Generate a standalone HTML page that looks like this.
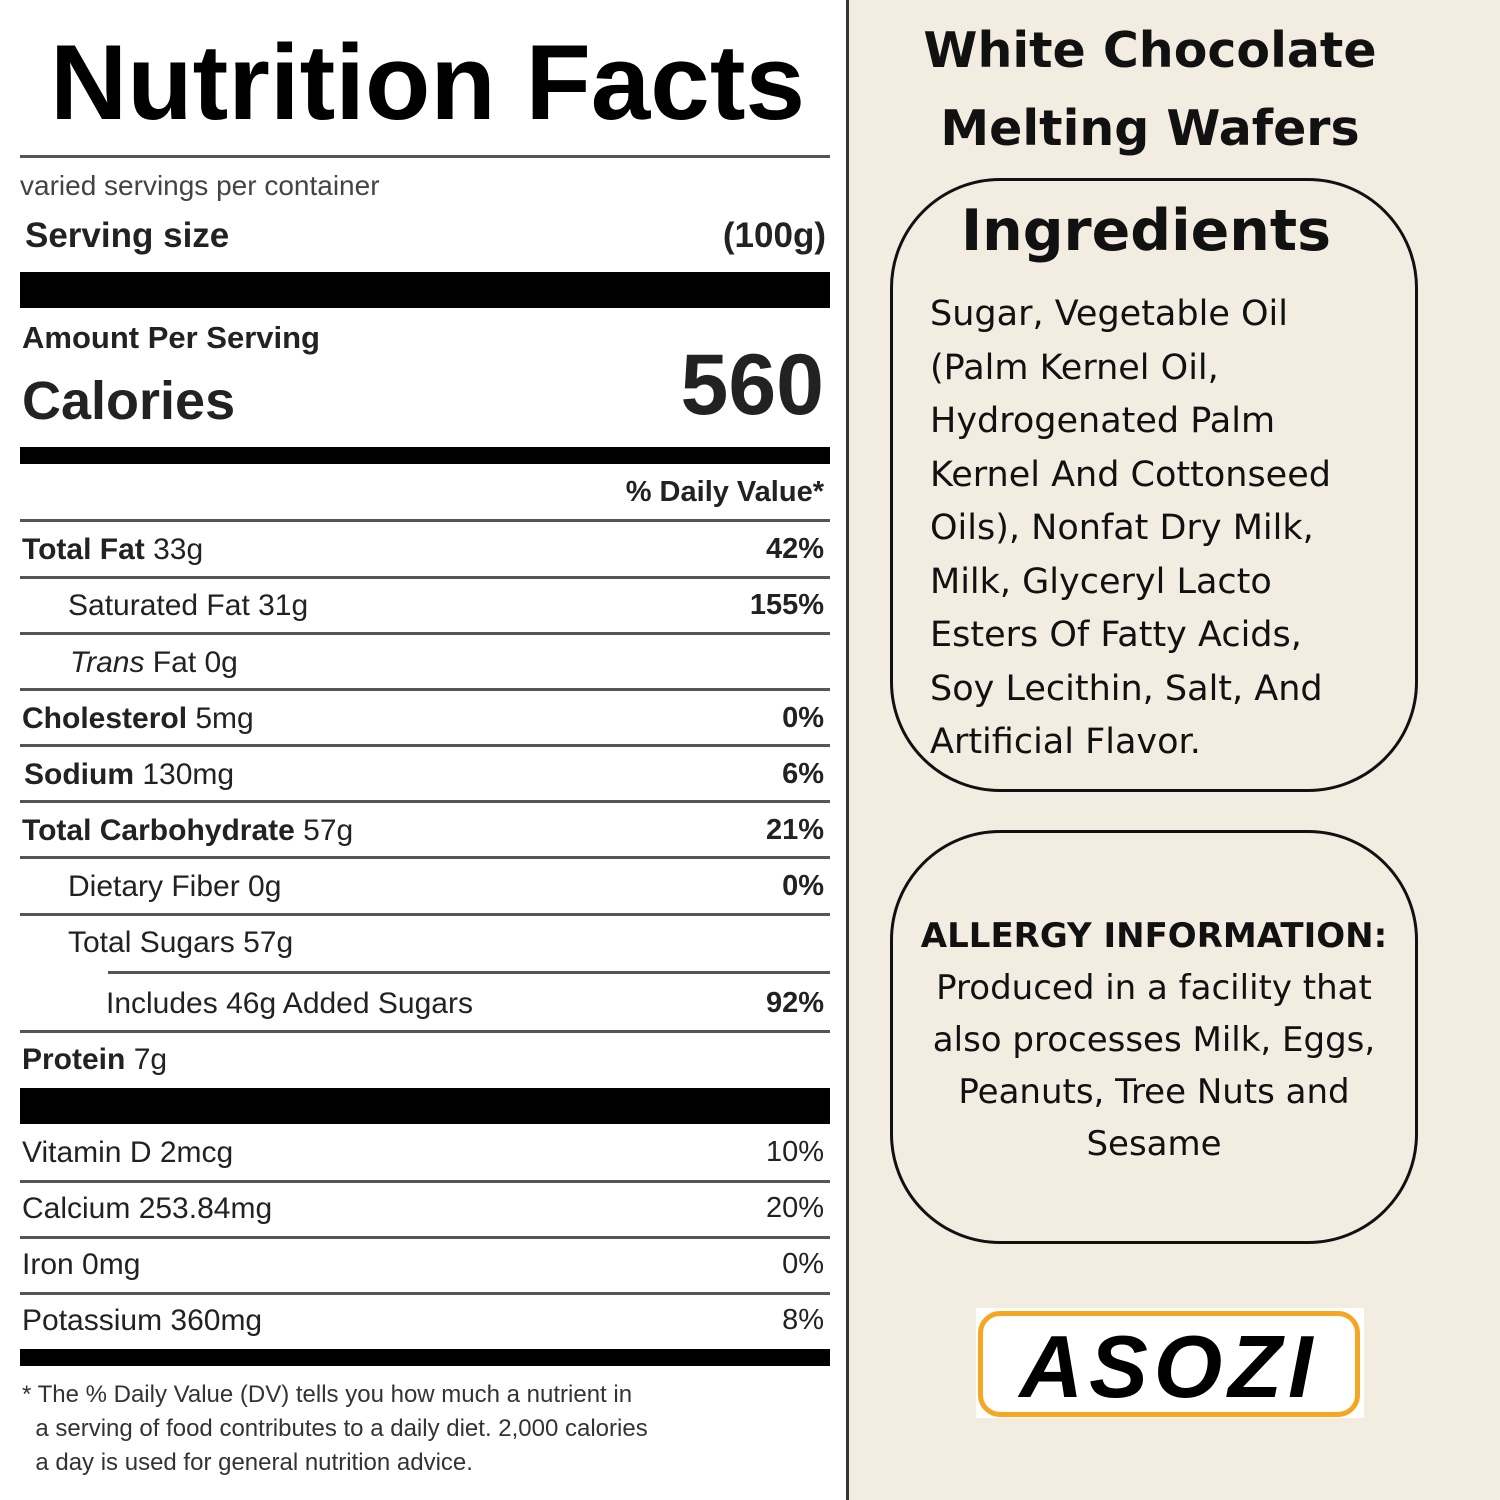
<!DOCTYPE html><html><head><style>
body{margin:0;width:1500px;height:1500px;background:#f3ece1;position:relative;overflow:hidden;font-family:"Liberation Sans",sans-serif}
#l{position:absolute;left:0;top:0;width:846px;height:1500px;background:#fff;border-right:3px solid #333}
.t{position:absolute;white-space:nowrap;color:#222}
.r{position:absolute;right:22px;white-space:nowrap;color:#222;font-weight:bold;font-size:29px}
.ln{position:absolute;left:20px;width:810px;height:3px;background:#555}
.bar{position:absolute;left:20px;width:810px;background:#000}
.f{font-size:30px}
.box{position:absolute;border:3px solid #111;border-radius:110px}
.rt{position:absolute;font-family:"DejaVu Sans",sans-serif;color:#111;white-space:nowrap}
</style></head><body>
<div id="l">
<div class="t" style="left:50px;top:20px;font-size:107px;font-weight:bold;color:#000">Nutrition Facts</div>
<div class="ln" style="top:155px"></div>
<div class="t" style="left:20px;top:170px;font-size:28px;color:#444">varied servings per container</div>
<div class="t" style="left:25px;top:216px;font-size:35px;font-weight:bold">Serving size</div>
<div class="t" style="right:20px;top:216px;font-size:35px;font-weight:bold">(100g)</div>
<div class="bar" style="top:272px;height:36px"></div>
<div class="t" style="left:22px;top:320px;font-size:31px;font-weight:bold">Amount Per Serving</div>
<div class="t" style="left:22px;top:370px;font-size:54px;font-weight:bold">Calories</div>
<div class="t" style="right:22px;top:336px;font-size:86px;font-weight:bold">560</div>
<div class="bar" style="top:447px;height:17px"></div>
<div class="r" style="top:476px">% Daily Value*</div>
<div class="ln" style="top:519px"></div>
<div class="t f" style="left:22px;top:533px"><b>Total Fat</b> 33g</div><div class="r" style="top:533px">42%</div>
<div class="ln" style="top:576px"></div>
<div class="t f" style="left:68px;top:589px">Saturated Fat 31g</div><div class="r" style="top:589px">155%</div>
<div class="ln" style="top:632px"></div>
<div class="t f" style="left:70px;top:646px"><i>Trans</i> Fat 0g</div>
<div class="ln" style="top:688px"></div>
<div class="t f" style="left:22px;top:702px"><b>Cholesterol</b> 5mg</div><div class="r" style="top:702px">0%</div>
<div class="ln" style="top:744px"></div>
<div class="t f" style="left:24px;top:758px"><b>Sodium</b> 130mg</div><div class="r" style="top:758px">6%</div>
<div class="ln" style="top:800px"></div>
<div class="t f" style="left:22px;top:814px"><b>Total Carbohydrate</b> 57g</div><div class="r" style="top:814px">21%</div>
<div class="ln" style="top:856px"></div>
<div class="t f" style="left:68px;top:870px">Dietary Fiber 0g</div><div class="r" style="top:870px">0%</div>
<div class="ln" style="top:913px"></div>
<div class="t f" style="left:68px;top:926px">Total Sugars 57g</div>
<div class="ln" style="top:971px;left:108px;width:722px"></div>
<div class="t f" style="left:106px;top:987px">Includes 46g Added Sugars</div><div class="r" style="top:987px">92%</div>
<div class="ln" style="top:1030px"></div>
<div class="t f" style="left:22px;top:1043px"><b>Protein</b> 7g</div>
<div class="bar" style="top:1088px;height:36px"></div>
<div class="t f" style="left:22px;top:1136px">Vitamin D 2mcg</div><div class="r" style="top:1136px;font-weight:normal">10%</div>
<div class="ln" style="top:1180px"></div>
<div class="t f" style="left:22px;top:1192px">Calcium 253.84mg</div><div class="r" style="top:1192px;font-weight:normal">20%</div>
<div class="ln" style="top:1236px"></div>
<div class="t f" style="left:22px;top:1248px">Iron 0mg</div><div class="r" style="top:1248px;font-weight:normal">0%</div>
<div class="ln" style="top:1292px"></div>
<div class="t f" style="left:22px;top:1304px">Potassium 360mg</div><div class="r" style="top:1304px;font-weight:normal">8%</div>
<div class="bar" style="top:1349px;height:17px"></div>
<div class="t" style="left:22px;top:1378px;font-size:24px;line-height:34px;color:#333">* The % Daily Value (DV) tells you how much a nutrient in<br>&nbsp;&nbsp;a serving of food contributes to a daily diet. 2,000 calories<br>&nbsp;&nbsp;a day is used for general nutrition advice.</div>
</div>
<div class="rt" style="left:850px;width:600px;text-align:center;top:12px;font-size:49px;font-weight:bold;line-height:78px">White Chocolate<br>Melting Wafers</div>
<div class="box" style="left:890px;top:178px;width:522px;height:608px"></div>
<div class="rt" style="left:890px;width:512px;text-align:center;top:198px;font-size:57px;font-weight:bold">Ingredients</div>
<div class="rt" style="left:930px;top:288px;font-size:35px;line-height:53.5px">Sugar, Vegetable Oil<br>(Palm Kernel Oil,<br>Hydrogenated Palm<br>Kernel And Cottonseed<br>Oils), Nonfat Dry Milk,<br>Milk, Glyceryl Lacto<br>Esters Of Fatty Acids,<br>Soy Lecithin, Salt, And<br>Artificial Flavor.</div>
<div class="box" style="left:890px;top:830px;width:522px;height:408px"></div>
<div class="rt" style="left:890px;width:528px;text-align:center;top:910px;font-size:34px;line-height:52px"><b>ALLERGY INFORMATION:</b><br>Produced in a facility that<br>also processes Milk, Eggs,<br>Peanuts, Tree Nuts and<br>Sesame</div>
<div style="position:absolute;left:976px;top:1308px;width:388px;height:110px;background:#fff"></div>
<div style="position:absolute;left:978px;top:1311px;width:372px;height:96px;border:5px solid #f5a623;border-radius:22px;background:#fff"></div>
<div class="rt" style="left:978px;width:382px;text-align:center;top:1316px;font-size:88px;font-weight:bold;font-style:italic;letter-spacing:6px;color:#000;font-family:'Liberation Sans',sans-serif">ASOZI</div>
</body></html>
